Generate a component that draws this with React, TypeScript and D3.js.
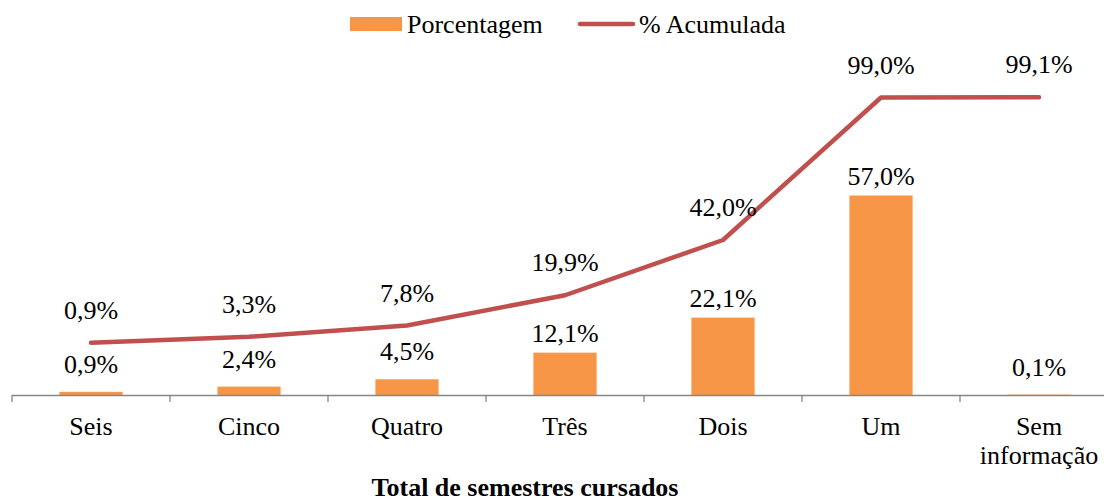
import { useEffect, useRef } from 'react'
import * as d3 from 'd3'

const categories = ['Seis', 'Cinco', 'Quatro', 'Três', 'Dois', 'Um', 'Sem\ninformação']
const porcentagem = [0.9, 2.4, 4.5, 12.1, 22.1, 57.0, 0.1]
const acumulada = [0.9, 3.3, 7.8, 19.9, 42.0, 99.0, 99.1]
const seriesNames = ['Porcentagem', '% Acumulada']
const axisTitle = 'Total de semestres cursados'

const fmt = (v: number) => v.toFixed(1).replace('.', ',') + '%'

export default function App() {
  const ref = useRef<SVGSVGElement>(null)

  useEffect(() => {
    if (!ref.current) return
    const width = 1104
    const height = 501
    const font = '"Liberation Serif", "Times New Roman", serif'
    const orange = '#F79646'
    const red = '#C0504D'
    const baseY = 395
    const topY = 45

    const svg = d3.select(ref.current)
    svg.selectAll('*').remove()
    svg.attr('width', width).attr('height', height)

    const x = d3.scaleBand<string>().domain(categories).range([12, 1118]).paddingInner(0.6).paddingOuter(0.3)
    const yBar = d3.scaleLinear().domain([0, 100]).range([baseY, topY])
    const yLine = d3.scaleLinear().domain([-20, 120]).range([baseY, topY])
    const cx = (c: string) => (x(c) ?? 0) + x.bandwidth() / 2

    // bars
    svg.append('g')
      .selectAll('rect')
      .data(porcentagem)
      .join('rect')
      .attr('x', (_, i) => x(categories[i]) ?? 0)
      .attr('width', x.bandwidth())
      .attr('y', (d) => yBar(d))
      .attr('height', (d) => baseY - yBar(d))
      .attr('fill', orange)

    // axis
    const axis = svg.append('g').attr('transform', `translate(0,${baseY})`)
    axis.append('line').attr('x1', 12).attr('x2', width).attr('y1', 0.5).attr('y2', 0.5)
      .attr('stroke', '#868686').attr('stroke-width', 1.3)
    const ticks = d3.range(categories.length + 1).map((i) => 12 + i * x.step())
    axis.selectAll('line.tick')
      .data(ticks)
      .join('line')
      .attr('class', 'tick')
      .attr('x1', (d) => d).attr('x2', (d) => d)
      .attr('y1', 0).attr('y2', 7)
      .attr('stroke', '#868686').attr('stroke-width', 1.3)

    // category labels
    svg.append('g')
      .selectAll('text')
      .data(categories)
      .join('text')
      .attr('x', (d) => cx(d))
      .attr('y', 435)
      .attr('text-anchor', 'middle')
      .attr('font-family', font)
      .attr('font-size', 26)
      .attr('fill', '#000')
      .each(function (d) {
        const lines = d.split('\n')
        lines.forEach((l, j) => {
          d3.select(this).append('tspan').attr('x', cx(d)).attr('dy', j === 0 ? 0 : 28.5).text(l)
        })
      })

    // line
    const line = d3.line<number>()
      .x((_, i) => cx(categories[i]))
      .y((d) => yLine(d))
    svg.append('path')
      .datum(acumulada)
      .attr('d', line)
      .attr('fill', 'none')
      .attr('stroke', red)
      .attr('stroke-width', 4.5)
      .attr('stroke-linecap', 'round')
      .attr('stroke-linejoin', 'round')

    // bar labels
    svg.append('g')
      .selectAll('text')
      .data(porcentagem)
      .join('text')
      .attr('x', (_, i) => cx(categories[i]))
      .attr('y', (d) => yBar(d) - (d < 10 ? 19 : 11))
      .attr('text-anchor', 'middle')
      .attr('font-family', font)
      .attr('font-size', 26)
      .attr('fill', '#000')
      .text((d) => fmt(d))

    // line labels
    svg.append('g')
      .selectAll('text')
      .data(acumulada)
      .join('text')
      .attr('x', (_, i) => cx(categories[i]))
      .attr('y', (d) => yLine(d) - 24)
      .attr('text-anchor', 'middle')
      .attr('font-family', font)
      .attr('font-size', 26)
      .attr('fill', '#000')
      .text((d) => fmt(d))

    // axis title
    svg.append('text')
      .attr('x', 525)
      .attr('y', 496)
      .attr('text-anchor', 'middle')
      .attr('font-family', font)
      .attr('font-size', 26)
      .attr('font-weight', 'bold')
      .attr('fill', '#000')
      .text(axisTitle)

    // legend
    const lg = svg.append('g')
    lg.append('rect').attr('x', 350).attr('y', 17).attr('width', 52).attr('height', 14).attr('fill', orange)
    lg.append('text').attr('x', 407).attr('y', 33)
      .attr('font-family', font).attr('font-size', 26).attr('fill', '#000').text(seriesNames[0])
    lg.append('line').attr('x1', 580).attr('x2', 633).attr('y1', 24).attr('y2', 24)
      .attr('stroke', red).attr('stroke-width', 4.5).attr('stroke-linecap', 'round')
    lg.append('text').attr('x', 639).attr('y', 33)
      .attr('font-family', font).attr('font-size', 26).attr('fill', '#000').text(seriesNames[1])
  }, [])

  return <svg ref={ref} style={{ position: 'absolute', left: 0, top: 0, display: 'block', background: '#fff' }} />
}
